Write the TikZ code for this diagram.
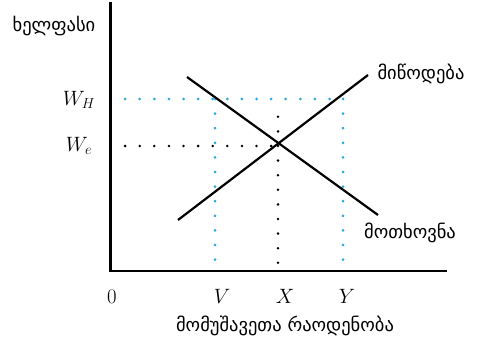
\documentclass[tikz,border=0pt]{standalone}
\usepackage{fontspec}
\newfontfamily\geo{DejaVu Sans}
\definecolor{dotblue}{RGB}{40,170,225}
\tikzset{
  axisline/.style={line width=2.6pt, line cap=rect},
  curve/.style={line width=2.2pt},
  bluedots/.style={dotblue, line width=3pt, line cap=round, dash pattern=on 0pt off 14.6pt},
  blackdots/.style={black, line width=2.8pt, line cap=round, dash pattern=on 0pt off 14.6pt},
  geolabel/.style={font=\geo\fontsize{18.5}{22}\selectfont, inner sep=0pt},
  mathlabel/.style={font=\fontsize{20}{24}\selectfont, inner sep=0pt}
}
\begin{document}
\begin{tikzpicture}[x=1pt,y=-1pt]
\useasboundingbox (0,0) rectangle (477,342);
% key points
\coordinate (O) at (110.5,271);
\coordinate (top) at (110.5,3);
\coordinate (xend) at (446,271);
\coordinate (s1) at (178,220);
\coordinate (s2) at (368,75);
\coordinate (d1) at (187,77);
\coordinate (d2) at (378,215);
\coordinate (E) at (278,146);
\coordinate (whL) at (110.5,99);
\coordinate (whR) at (343,99);
\coordinate (weL) at (110.5,146);
\coordinate (vT) at (215,99);
\coordinate (vB) at (215,271);
\coordinate (yB) at (343,271);
\coordinate (xT) at (278,116.8);
\coordinate (xB) at (278,271);
% dotted guides
\draw[bluedots] (whL) -- (whR);
\draw[bluedots] (vT) -- (vB);
\draw[bluedots] (whR) -- (yB);
\draw[blackdots] (weL) -- (E);
\draw[blackdots] (xT) -- (xB);
% curves
\draw[curve] (s1) -- (s2);
\draw[curve] (d1) -- (d2);
% axes
\draw[axisline] (top) -- (O) -- (xend);
% labels
\node[geolabel] (ylab) at (54,26) {ხელფასი};
\node[geolabel] (xlab) at (285,326) {მომუშავეთა რაოდენობა};
\node[geolabel] (sup) at (421,74) {მიწოდება};
\node[geolabel] (dem) at (410,233) {მოთხოვნა};
\node[mathlabel] (wh) at (79,100) {$W_H$};
\node[mathlabel] (we) at (79,146) {$W_e$};
\node[mathlabel] (zero) at (112,297) {$0$};
\node[mathlabel] (vl) at (222,296) {$V$};
\node[mathlabel] (xl) at (285,296) {$X$};
\node[mathlabel] (yl) at (347,296) {$Y$};
\end{tikzpicture}
\end{document}
